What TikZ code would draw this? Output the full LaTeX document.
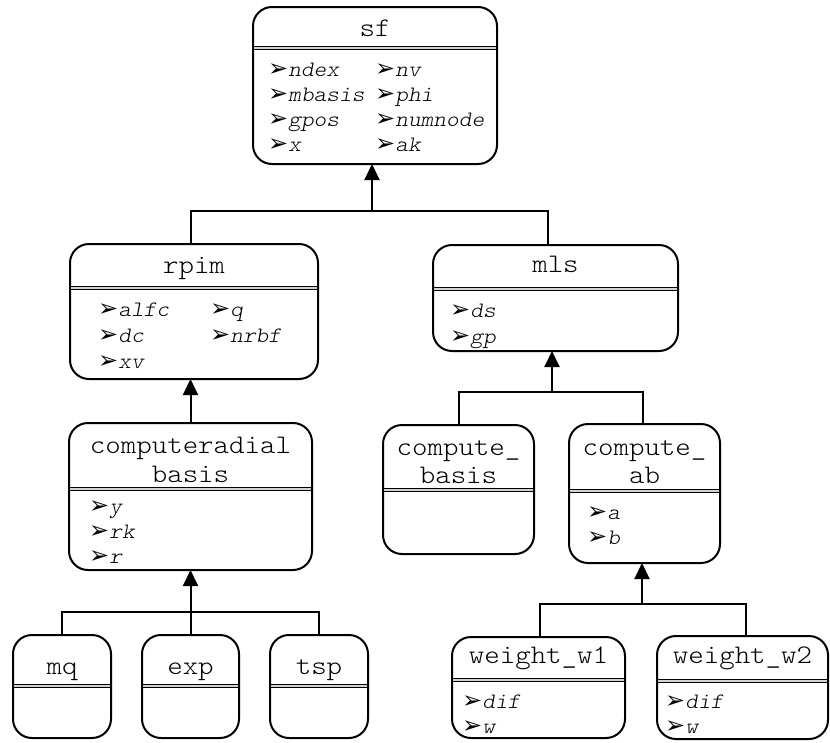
\documentclass[tikz,border=0pt]{standalone}
\usepackage{fontspec}
\usetikzlibrary{arrows.meta}
\newfontfamily\monofont{lmmonolt10-regular.otf}[ItalicFont=lmmonolt10-oblique.otf, FakeStretch=1.1]
\newfontfamily\dingfont{DejaVu Sans}
\tikzset{
 box/.style={draw, line width=2pt, rounded corners=19pt, inner sep=0pt, outer sep=0pt},
 dbl/.style={line width=1.5pt, double=gray!35, double distance=1.3pt},
 ttl/.style={font=\monofont\fontsize{26.8}{30}\selectfont, inner sep=0pt, anchor=base},
 attr/.style={font=\monofont\itshape\fontsize{22}{25}\selectfont, inner sep=0pt, anchor=base west},
 conn/.style={line width=2pt},
 arr/.style={conn, -{Triangle[width=15pt,length=16pt]}},
}
\newcommand\bul{{\dingfont\upshape\fontsize{24}{24}\selectfont ➢}}
% name, left, right, top, bottom, double-line y
\newcommand\umlbox[6]{%
 \node[box, minimum width={(#3-#2)*1pt}, minimum height={(#5-#4)*1pt}] (#1) at ({(#2+#3)/2},{(#4+#5)/2}) {};
 \draw[dbl] (#2+1,#6) -- (#3-1,#6);
}
\begin{document}
\begin{tikzpicture}[x=1pt,y=-1pt]
\useasboundingbox (0,0) rectangle (830,742);
% boxes
\umlbox{sf}{253}{497}{7}{164}{48}
\umlbox{rpim}{70}{318}{244}{379}{288}
\umlbox{mls}{433}{678}{245}{351}{289}
\umlbox{cr}{69}{312}{423}{570}{489}
\umlbox{cb}{383}{534}{425}{554}{490}
\umlbox{cab}{569}{720}{424}{563}{491}
\umlbox{mq}{13}{111}{635}{738}{686}
\umlbox{exp}{142}{239}{635}{738}{686}
\umlbox{tsp}{270}{368}{635}{738}{686}
\umlbox{w1}{452}{625}{637}{738}{680}
\umlbox{w2}{657}{828}{636}{739}{681}
% titles
\node[ttl] (sft) at (375,36) {sf};
\node[ttl] (rpimt) at (194,273) {rpim};
\node[ttl] (mlst) at (555.5,272) {mls};
\node[ttl] (crt1) at (190.5,453) {computeradial};
\node[ttl] (crt2) at (190.5,482) {basis};
\node[ttl] (cbt1) at (458.5,455) {compute\_};
\node[ttl] (cbt2) at (458.5,483) {basis};
\node[ttl] (cabt1) at (644.5,455) {compute\_};
\node[ttl] (cabt2) at (644.5,483) {ab};
\node[ttl] (mqt) at (62,674) {mq};
\node[ttl] (expt) at (190.5,674) {exp};
\node[ttl] (tspt) at (319,674) {tsp};
\node[ttl] (w1t) at (538.5,663) {weight\_w1};
\node[ttl] (w2t) at (742.5,663) {weight\_w2};
% attributes
\node[attr] (sfa1) at (268,76) {\bul ndex};
\node[attr] (sfa2) at (268,101) {\bul mbasis};
\node[attr] (sfa3) at (268,126) {\bul gpos};
\node[attr] (sfa4) at (268,151) {\bul x};
\node[attr] (sfa5) at (375,76) {\bul nv};
\node[attr] (sfa6) at (375,101) {\bul phi};
\node[attr] (sfa7) at (375,126) {\bul numnode};
\node[attr] (sfa8) at (375,151) {\bul ak};
\node[attr] (ra1) at (98,316) {\bul alfc};
\node[attr] (ra2) at (98,342) {\bul dc};
\node[attr] (ra3) at (98,368) {\bul xv};
\node[attr] (ra4) at (210,316) {\bul q};
\node[attr] (ra5) at (210,342) {\bul nrbf};
\node[attr] (ma1) at (450,317) {\bul ds};
\node[attr] (ma2) at (450,343) {\bul gp};
\node[attr] (cra1) at (89,513) {\bul y};
\node[attr] (cra2) at (89,538) {\bul rk};
\node[attr] (cra3) at (89,563) {\bul r};
\node[attr] (caba1) at (587,519) {\bul a};
\node[attr] (caba2) at (587,544) {\bul b};
\node[attr] (w1a1) at (462,708) {\bul dif};
\node[attr] (w1a2) at (462,733) {\bul w};
\node[attr] (w2a1) at (665,708) {\bul dif};
\node[attr] (w2a2) at (665,733) {\bul w};
% connectors
\coordinate (j1) at (372,211);
\draw[arr] (j1) -- (j1 |- sf.south);
\draw[conn] ([xshift=-3pt]rpim.north) |- (j1) -| ([xshift=-8pt]mls.north);
\draw[arr] (cr.north) -- (cr.north |- rpim.south);
\coordinate (j2) at (552,392);
\draw[arr] (j2) -- (j2 |- mls.south);
\draw[conn] (cb.north) |- (j2) -| ([xshift=-2pt]cab.north);
\coordinate (j3) at (190.5,612);
\draw[arr] (exp.north) -- (exp.north |- cr.south);
\draw[conn] (mq.north) |- (j3) -| (tsp.north);
\coordinate (j4) at (642,604);
\draw[arr] (j4) -- (j4 |- cab.south);
\draw[conn] ([xshift=1.5pt]w1.north) |- (j4) -| ([xshift=3.5pt]w2.north);
\end{tikzpicture}
\end{document}
